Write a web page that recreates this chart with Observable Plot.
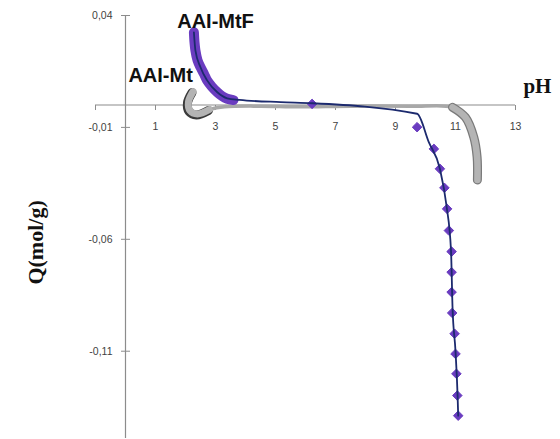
<!DOCTYPE html>
<html>
<head>
<meta charset="utf-8">
<script src="https://cdn.jsdelivr.net/npm/d3@7"></script>
<script src="https://cdn.jsdelivr.net/npm/@observablehq/plot@0.6"></script>
<style>
  html, body { margin: 0; padding: 0; background: #ffffff; }
  #chart svg { display: block; }
</style>
</head>
<body>
<div id="chart"></div>
<script>
// ---- data ----
// AAI-MtF: dense upper branch (purple band)
const mtfDenseX = [2.28, 2.30, 2.33, 2.40, 2.50, 2.62, 2.72, 2.88, 3.06, 3.22, 3.39, 3.60];
const mtfDenseQ = [0.0325, 0.0280, 0.0244, 0.0200, 0.0169, 0.0138, 0.0110, 0.0082, 0.0057, 0.0040, 0.0028, 0.0022];
// AAI-MtF: individual diamonds
const mtfX = [6.22, 9.72, 10.28, 10.48, 10.63, 10.72, 10.78, 10.87, 10.87, 10.87, 10.89, 10.97, 11.00, 11.03, 11.06, 11.09];
const mtfQ = [0.0005, -0.0099, -0.0196, -0.0285, -0.0370, -0.0464, -0.0561, -0.0655, -0.0747, -0.0836, -0.0929, -0.1022, -0.1112, -0.1201, -0.1298, -0.1388];
// AAI-MtF fitted curve (navy)
const fitX = [2.28, 2.33, 2.50, 2.72, 3.06, 3.39, 3.80, 5.17, 6.22, 9.72, 10.11, 10.48, 10.70, 10.85, 10.90, 11.00, 11.07, 11.09];
const fitQ = [0.0325, 0.0244, 0.0169, 0.0110, 0.0057, 0.0030, 0.0023, 0.0013, 0.0008, -0.0039, -0.0166, -0.0285, -0.0450, -0.0650, -0.0900, -0.1100, -0.1300, -0.1388];
// AAI-Mt (grey)
const mtX = [2.25, 2.10, 2.15, 2.40, 2.80, 3.30, 4.50, 5.78, 7.50, 9.50, 10.90, 11.33, 11.61, 11.72, 11.73];
const mtQ = [0.0060, 0.0015, -0.0025, -0.0040, -0.0020, -0.0008, -0.0005, -0.0008, -0.0005, -0.0006, -0.0010, -0.0055, -0.0144, -0.0233, -0.0335];

// axes
const xTicks = [-1, 1, 3, 5, 7, 9, 11, 13];
const xTickLabels = ["", "1", "3", "5", "7", "9", "11", "13"];
const yTicks = [0.04, -0.01, -0.06, -0.11];
const yTickLabels = ["0,04", "-0,01", "-0,06", "-0,11"];
const seriesNames = ["AAI-MtF", "AAI-Mt"];
const labelPos = [{x: 3.0, y: 0.0375}, {x: 1.17, y: 0.013}];
const xTitle = "pH";
const yTitle = "Q(mol/g)";

// ---- build tables ----
const dense = mtfDenseX.map((x, i) => ({x, q: mtfDenseQ[i]}));
const mtf = mtfX.map((x, i) => ({x, q: mtfQ[i]}));
const fit = fitX.map((x, i) => ({x, q: fitQ[i]}));
const mt = mtX.map((x, i) => ({x, q: mtQ[i]}));
const mtHook1 = mt.filter(d => d.x < 3);
const mtHook2 = mt.filter(d => d.x > 10.8);
const xt = xTicks.map((v, i) => ({v, label: xTickLabels[i]}));
const yt = yTicks.map((v, i) => ({v, label: yTickLabels[i]}));

const hTick = {draw(ctx) { ctx.moveTo(-4.5, 0); ctx.lineTo(4.5, 0); }};
const vTick = {draw(ctx) { ctx.moveTo(0, 0); ctx.lineTo(0, 5); }};

const axisColor = "#8c8c8c";
const purple = "#6a3cc0";
const navy = "#1c2a6e";

const chart = Plot.plot({
  width: 560,
  height: 439,
  marginLeft: 95,
  marginRight: 45,
  marginTop: 15,
  marginBottom: 1,
  x: {domain: [-1, 13], axis: null},
  y: {domain: [-0.149, 0.04], axis: null},
  style: {background: "#ffffff", overflow: "visible", fontFamily: "Liberation Sans, Arial, sans-serif"},
  marks: [
    // axes lines
    Plot.ruleY([0], {x1: -1, x2: 13, stroke: axisColor, strokeWidth: 1.2}),
    Plot.ruleX([0], {y1: -0.149, y2: 0.04, stroke: axisColor, strokeWidth: 1.2}),
    Plot.dot(yt, {x: () => 0, y: "v", symbol: hTick, stroke: axisColor, strokeWidth: 1, r: 1}),
    Plot.dot(xt, {x: "v", y: () => 0, symbol: vTick, stroke: axisColor, strokeWidth: 1, r: 1}),
    Plot.text(yt, {x: () => 0, y: "v", text: "label", dx: -13, textAnchor: "end", fontSize: 10.5, fill: "#3f3f3f"}),
    Plot.text(xt, {x: "v", y: () => 0, text: "label", dy: 22, fontSize: 10.5, fill: "#3f3f3f"}),
    // AAI-Mt grey
    Plot.line(mt, {x: "x", y: "q", stroke: "#a8a8a8", strokeWidth: 3.5, curve: "catmull-rom"}),
    Plot.line(mtHook1, {x: "x", y: "q", stroke: "#3a3a3a", strokeWidth: 9, curve: "catmull-rom", strokeLinecap: "round", dx: -1, dy: 1}),
    Plot.line(mtHook1, {x: "x", y: "q", stroke: "#b4b4b4", strokeWidth: 7, curve: "catmull-rom", strokeLinecap: "round"}),
    Plot.line(mtHook2, {x: "x", y: "q", stroke: "#7a7a7a", strokeWidth: 9, curve: "catmull-rom", strokeLinecap: "round"}),
    Plot.line(mtHook2, {x: "x", y: "q", stroke: "#b4b4b4", strokeWidth: 6.5, curve: "catmull-rom", strokeLinecap: "round"}),
    // AAI-MtF purple
    Plot.line(dense, {x: "x", y: "q", stroke: purple, strokeWidth: 10, curve: "catmull-rom", strokeLinecap: "round"}),
    Plot.dot(mtf, {x: "x", y: "q", symbol: "diamond2", r: 4.3, fill: purple, stroke: purple, strokeWidth: 1}),
    Plot.line(fit, {x: "x", y: "q", stroke: navy, strokeWidth: 1.8, curve: "monotone-x"}),
    // series labels
    Plot.text(seriesNames, {x: (d, i) => labelPos[i].x, y: (d, i) => labelPos[i].y, text: d => d,
      fontSize: 20, fontWeight: "bold", fill: "#111111", fontFamily: "Liberation Sans, Arial, sans-serif"}),
    // axis titles
    Plot.text([xTitle], {x: 13.73, y: 0.0085, text: d => d, fontSize: 21, fontWeight: "bold",
      fontFamily: "Liberation Serif, Times New Roman, serif", fill: "#111111"}),
    Plot.text([yTitle], {x: -2.97, y: -0.0614, text: d => d, rotate: -90, fontSize: 22, fontWeight: "bold",
      fontFamily: "Liberation Serif, Times New Roman, serif", fill: "#111111"})
  ]
});
document.getElementById("chart").appendChild(chart);
</script>
</body>
</html>
